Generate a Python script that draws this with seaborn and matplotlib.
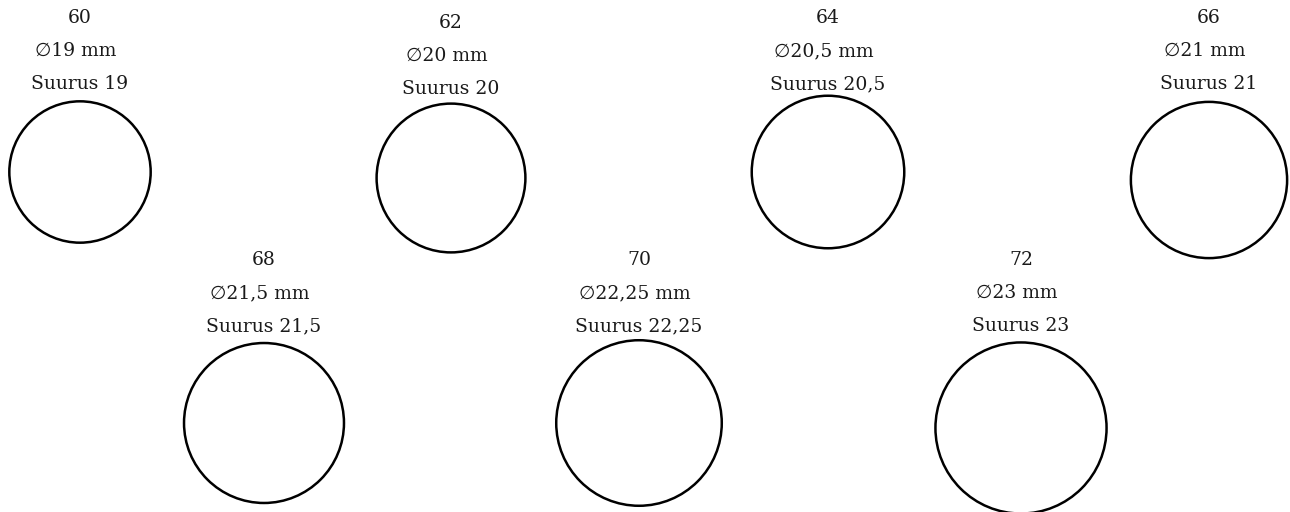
import matplotlib
matplotlib.use("Agg")
import matplotlib.pyplot as plt
import seaborn as sns
from matplotlib.patches import Circle

# ring chart data
ring_numbers = ["60", "62", "64", "66", "68", "70", "72"]
diameters_mm = [19, 20, 20.5, 21, 21.5, 22.25, 23]
size_labels = ["19", "20", "20,5", "21", "21,5", "22,25", "23"]
diameter_labels = ["19", "20", "20,5", "21", "21,5", "22,25", "23"]

# layout (pixels on the page)
center_x = [80, 451, 828, 1209, 264, 639, 1021]
center_y = [172, 178, 172, 180, 423, 423, 428]
label_top = [18, 23, 18, 18, 260, 260, 260]
px_per_mm = 3.72

sns.set_style("white")
plt.rcParams['font.family'] = ['DejaVu Serif', 'DejaVu Sans']

fig = plt.figure(figsize=(12.9, 5.12), dpi=100)
ax = fig.add_axes([0, 0, 1, 1])
ax.set_xlim(0, 1290)
ax.set_ylim(512, 0)
ax.set_aspect('equal')
ax.axis('off')

for i in range(len(ring_numbers)):
    cx, cy = center_x[i], center_y[i]
    r = diameters_mm[i] * px_per_mm
    ax.add_patch(Circle((cx, cy), r, fill=False, edgecolor='black', linewidth=1.8))
    ty = label_top[i]
    ax.text(cx, ty, ring_numbers[i], ha='center', va='center', fontsize=13.5, color='#1a1a1a')
    ax.text(cx - 4, ty + 33, "\u2205" + diameter_labels[i] + " mm", ha='center', va='center',
            fontsize=13.5, color='#1a1a1a')
    ax.text(cx, ty + 66, "Suurus " + size_labels[i], ha='center', va='center',
            fontsize=13.5, color='#1a1a1a')

fig.savefig("out.png", dpi=100, facecolor='white')
